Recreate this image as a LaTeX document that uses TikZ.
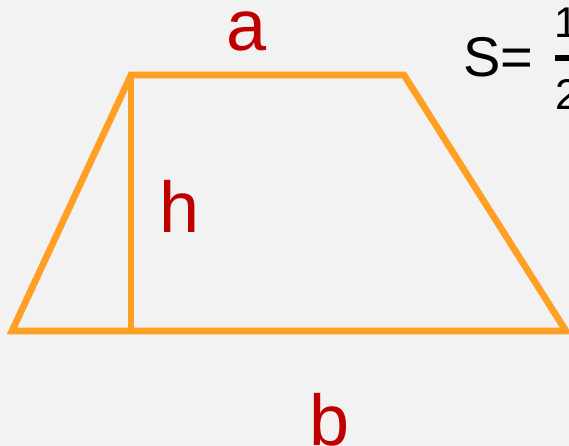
\documentclass[tikz,border=0pt]{standalone}
\usepackage{fontspec}
\setmainfont{Liberation Sans}
\definecolor{edgeorange}{RGB}{255,160,36}
\definecolor{labelred}{RGB}{192,0,0}
\definecolor{paper}{RGB}{242,242,242}
\tikzset{
	side/.style={draw=edgeorange, line width=6.7pt},
	letter/.style={anchor=base, text=labelred, inner sep=0pt, font=\fontsize{72}{72}\selectfont},
	formula/.style={anchor=base west, inner sep=0pt, font=\fontsize{56}{56}\selectfont},
	digit/.style={anchor=base west, inner sep=0pt, font=\fontsize{43}{43}\selectfont}
}
\begin{document}
\begin{tikzpicture}[x=1pt, y=-1pt]
	\useasboundingbox (0, 0) rectangle (569, 446);
	\fill[paper] (0, 0) rectangle (569, 446);
	\clip (0, 0) rectangle (569, 446);
	\coordinate (bl) at (12, 331);
	\coordinate (tl) at (131, 75);
	\coordinate (tr) at (404, 75);
	\coordinate (br) at (566, 331);
	\coordinate (foot) at (131, 331);
	\draw[side] (bl) -- (tl) -- (tr) -- (br) -- cycle;
	\draw[side] (tl) -- (foot);
	\node[letter] (a) at (247, 51){a};
	\node[letter] (h) at (180, 232){h};
	\node[letter] (b) at (330, 445){b};
	\node[formula] (s) at (463, 76.5){S=};
	\node[digit] (one) at (554.3, 38){1};
	\node[digit] (two) at (555.7, 110){2};
	\coordinate (barl) at (555, 58.5);
	\coordinate (barr) at (585, 58.5);
	\draw[line width=6pt] (barl) -- (barr);
\end{tikzpicture}
\end{document}
